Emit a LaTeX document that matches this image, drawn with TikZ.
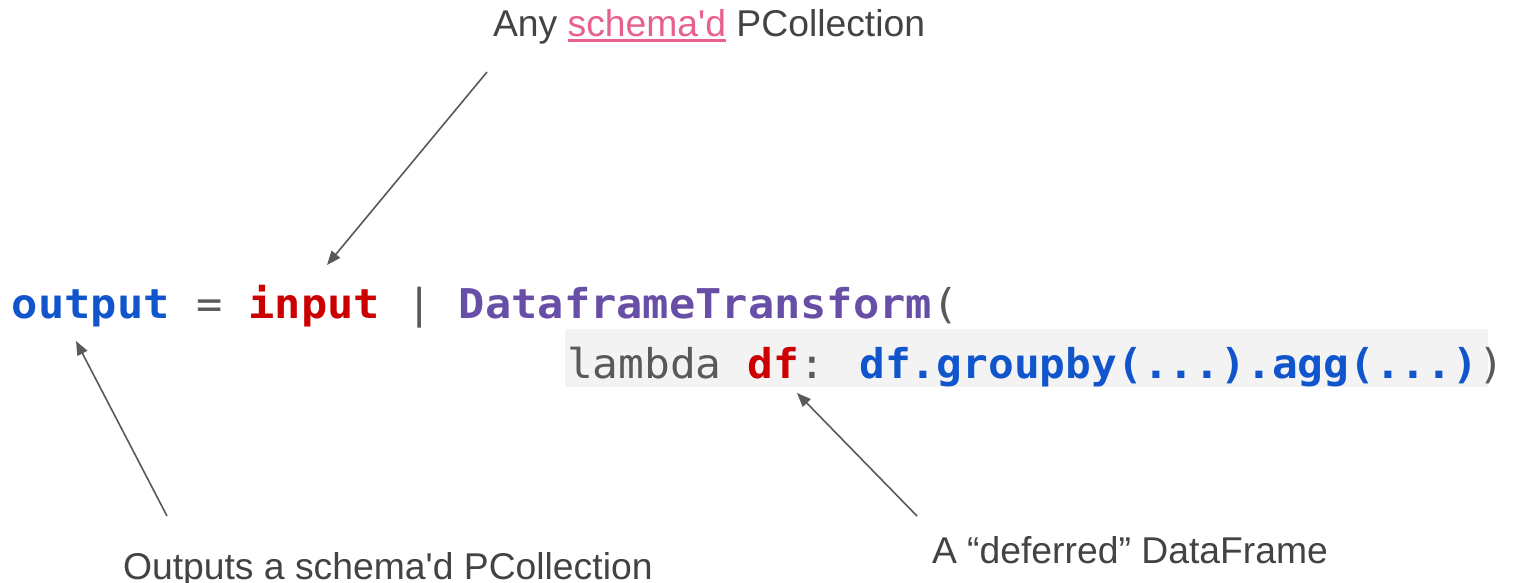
\documentclass[tikz,border=0pt]{standalone}
\usepackage{fontspec}
\setmainfont{Liberation Sans}
\newfontfamily\codefont[FakeStretch=1.065]{DejaVu Sans Mono}
\newfontfamily\codefontb[FakeStretch=1.045]{DejaVu Sans Mono}
\usetikzlibrary{arrows.meta}
\definecolor{cblue}{HTML}{1155CC}
\definecolor{cred}{HTML}{CC0000}
\definecolor{cpurple}{HTML}{674EA7}
\definecolor{cgrey}{HTML}{595959}
\definecolor{bggrey}{HTML}{F3F3F3}
\definecolor{pinklink}{HTML}{E8608F}
\definecolor{notegrey}{HTML}{434343}
\tikzset{
  codeline/.style={anchor=base west, inner sep=0pt, outer sep=0pt, text=cgrey,
    font=\codefont\fontsize{41}{41}\selectfont},
  codelineb/.style={anchor=base west, inner sep=0pt, outer sep=0pt, text=cgrey,
    font=\codefontb\fontsize{41}{41}\selectfont},
  note/.style={anchor=base west, inner sep=0pt, outer sep=0pt, text=notegrey,
    font=\fontsize{37.3}{40}\selectfont},
  pointer/.style={draw=cgrey, line width=1.6pt,
    -{Triangle[length=14pt,width=11pt]}}
}
\begin{document}
\begin{tikzpicture}[x=1pt,y=-1pt]
\useasboundingbox (0,0) rectangle (1516,583);
% grey background behind lambda
\fill[bggrey] (565,329) rectangle (1488,387);
% code
\node[codeline] (line1) at (12,318) {\textcolor{cblue}{\bfseries output} = \textcolor{cred}{\bfseries input} | \textcolor{cpurple}{\bfseries DataframeTransform}(};
\node[codelineb] (line2) at (567,378) {lambda \textcolor{cred}{\bfseries df}: \textcolor{cblue}{\bfseries df.groupby(...).agg(...)})};
% annotations
\node[note] (anyT) at (493,37) {Any \textcolor{pinklink}{\rlap{\rule[-5pt]{158pt}{2.5pt}}schema\textquotesingle d} PCollection};
\node[note] (outT) at (123,579) {Outputs a schema\textquotesingle d PCollection};
\node[note] (defT) at (932,563) {A “deferred” DataFrame};
% arrow end points
\coordinate (a1s) at (487,72);
\coordinate (a1e) at (327,265);
\coordinate (a2s) at (167,516);
\coordinate (a2e) at (76,341);
\coordinate (a3s) at (917,516);
\coordinate (a3e) at (797,393);
\draw[pointer] (a1s) -- (a1e);
\draw[pointer] (a2s) -- (a2e);
\draw[pointer] (a3s) -- (a3e);
\end{tikzpicture}
\end{document}
